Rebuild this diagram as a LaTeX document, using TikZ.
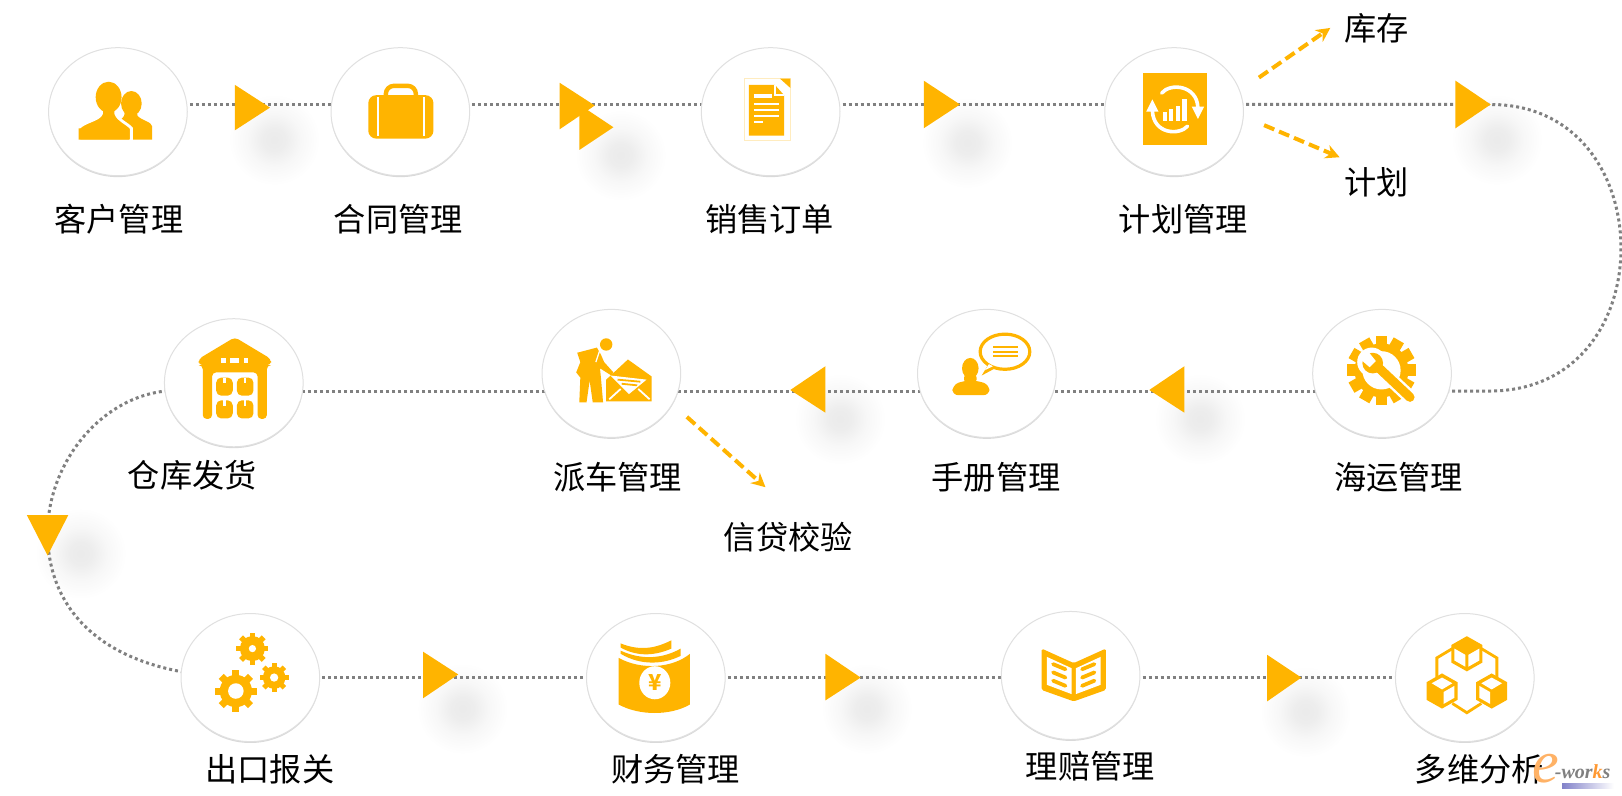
\documentclass[tikz,border=0pt]{standalone}
\usepackage{fontspec}
\setmainfont{Noto Sans CJK SC}
\newfontfamily\wmfont{Liberation Serif}
\usetikzlibrary{shapes.geometric,arrows.meta,shadows}
\definecolor{amber}{HTML}{FFB400}
\definecolor{dotgray}{HTML}{808080}
\pgfdeclarelayer{bg}
\pgfsetlayers{bg,main}
\pgfdeclareradialshading{spot}{\pgfpoint{0bp}{0bp}}{color(0bp)=(black!8); color(6bp)=(black!7); color(14bp)=(black!3); color(24bp)=(white); color(50bp)=(white)}
\tikzset{
  ic/.style={fill=amber,draw=none},
  wh/.style={fill=white,draw=none},
  circ/.style={ellipse,minimum width=69.3pt,minimum height=64pt,inner sep=0pt,fill=white,draw=black!12,line width=0.5pt,
     drop shadow={shadow xshift=0pt,shadow yshift=-0.7pt,opacity=0.15,fill=black}},
  lab/.style={font=\fontsize{16.1}{16.1}\selectfont,text=black,inner sep=0pt},
  dotline/.style={draw=dotgray,line width=1.5pt,dash pattern=on 1.5pt off 1.5pt},
  dasharrow/.style={draw=amber,line width=2pt,dash pattern=on 5.5pt off 2.6pt,-{Stealth[length=7pt,width=7pt]}},
}
\newcommand\geargl[5]{%
  \begin{scope}[shift={(#1,#2)}]
    \fill[ic] (0,0) circle[radius={0.78*#3}];
    \foreach \i in {1,...,#5}{\fill[ic,rotate={\i*360/#5}] ({-0.17*#3},0) rectangle ({0.17*#3},{-#3});}
    \fill[wh] (0,0) circle[radius=#4];
  \end{scope}}
\newcommand\cubeic[3]{%
  \begin{scope}[shift={(#1,#2)}]
    \fill[ic] (0,-17)--(15,-8.5)--(15,8.5)--(0,17)--(-15,8.5)--(-15,-8.5)--cycle;
    \ifcase#3\relax
      \fill[wh] (-12,-5)--(-1.5,1)--(-1.5,12.5)--(-12,6.5)--cycle;
      \fill[wh] (12,-5)--(1.5,1)--(1.5,12.5)--(12,6.5)--cycle;
    \or
      \fill[wh] (0,-13)--(10,-7.5)--(0,-1.5)--(-10,-7.5)--cycle;
      \fill[wh] (12,-5)--(1.5,1)--(1.5,12.5)--(12,6.5)--cycle;
    \or
      \fill[wh] (0,-13)--(10,-7.5)--(0,-1.5)--(-10,-7.5)--cycle;
      \fill[wh] (-12,-5)--(-1.5,1)--(-1.5,12.5)--(-12,6.5)--cycle;
    \fi
  \end{scope}}
\begin{document}
\begin{tikzpicture}[x=0.517pt,y=-0.517pt]
\useasboundingbox (0,0) rectangle (1568,768.6);
% rows
\coordinate (r1) at (0,101);
\coordinate (r2) at (0,378);
\coordinate (r3) at (0,655);
% circles
\node[circ] (c1) at (114,108) {};
\node[circ] (c2) at (387,108) {};
\node[circ] (c3) at (745,108) {};
\node[circ] (c4) at (1135,108) {};
\node[circ] (c5) at (1336,361) {};
\node[circ] (c6) at (954,361) {};
\node[circ] (c7) at (591,361) {};
\node[circ] (c8) at (226,370) {};
\node[circ] (c9) at (242,655) {};
\node[circ] (c10) at (634,655) {};
\node[circ] (c11) at (1035,653) {};
\node[circ] (c12) at (1416,655) {};
% free points
\coordinate (p1) at (1441,101);
\coordinate (p2) at (1440,378);
\coordinate (q1) at (160,378);
\coordinate (q2) at (46,515);
\coordinate (a1) at (1217,75);
\coordinate (a2) at (1286,27);
\coordinate (a3) at (1222,121);
\coordinate (a4) at (1295,152);
\coordinate (a5) at (664,403);
\coordinate (a6) at (740,471);
\begin{pgfonlayer}{bg}
  \fill[white] (0,0) rectangle (1568,768.6);
  \shade[shading=spot] (265,135) circle[radius=46];
  \shade[shading=spot] (600,150) circle[radius=46];
  \shade[shading=spot] (935,138) circle[radius=46];
  \shade[shading=spot] (1447,135) circle[radius=46];
  \shade[shading=spot] (1160,405) circle[radius=46];
  \shade[shading=spot] (812,405) circle[radius=46];
  \shade[shading=spot] (78,535) circle[radius=46];
  \shade[shading=spot] (447,685) circle[radius=46];
  \shade[shading=spot] (838,685) circle[radius=46];
  \shade[shading=spot] (1262,688) circle[radius=46];
  \draw[dotline] (c1 |- r1) -- (c2 |- r1);
  \draw[dotline] (c2 |- r1) -- (c3 |- r1);
  \draw[dotline] (c3 |- r1) -- (c4 |- r1);
  \draw[dotline] (c4 |- r1) -- (p1) .. controls (1525,101) and (1567,170) .. (1567,240) .. controls (1567,310) and (1525,378) .. (p2) -- (c5 |- r2);
  \draw[dotline] (c5 |- r2) -- (c6 |- r2);
  \draw[dotline] (c6 |- r2) -- (c7 |- r2);
  \draw[dotline] (c7 |- r2) -- (c8 |- r2);
  \draw[dotline] (c8 |- r2) -- (q1) .. controls (95,385) and (46,450) .. (q2) .. controls (46,590) and (100,655) .. (c9 |- r3);
  \draw[dotline] (c9 |- r3) -- (c10 |- r3);
  \draw[dotline] (c10 |- r3) -- (c11 |- r3);
  \draw[dotline] (c11 |- r3) -- (c12 |- r3);
\end{pgfonlayer}
% triangles
\fill[ic] (227,82)--(227,126)--(261,104)--cycle;
\fill[ic] (541,80)--(541,125)--(575,102)--cycle;
\fill[ic] (560,101)--(560,145)--(593,123)--cycle;
\fill[ic] (893,78)--(893,124)--(928,101)--cycle;
\fill[ic] (1407,78)--(1407,124)--(1441,101)--cycle;
\fill[ic] (1111,377)--(1145,354)--(1145,399)--cycle;
\fill[ic] (764,377)--(798,354)--(798,399)--cycle;
\fill[ic] (26,498)--(66,498)--(46,537)--cycle;
\fill[ic] (409,630)--(409,675)--(443,652)--cycle;
\fill[ic] (798,632)--(798,677)--(832,655)--cycle;
\fill[ic] (1225,633)--(1225,678)--(1258,655)--cycle;
% dashed arrows
\draw[dasharrow] (a1) -- (a2);
\draw[dasharrow] (a3) -- (a4);
\draw[dasharrow] (a5) -- (a6);
% labels
\node[lab] (l1) at (115,212) {客户管理};
\node[lab] (l2) at (385,212) {合同管理};
\node[lab] (l3) at (744,212) {销售订单};
\node[lab] (l4) at (1144,212) {计划管理};
\node[lab] (l5) at (1331,27) {库存};
\node[lab] (l6) at (1331,176) {计划};
\node[lab] (l7) at (186,459) {仓库发货};
\node[lab] (l8) at (597,461) {派车管理};
\node[lab] (l9) at (963,461) {手册管理};
\node[lab] (l10) at (1352,461) {海运管理};
\node[lab] (l11) at (762,519) {信贷校验};
\node[lab] (l12) at (261,744) {出口报关};
\node[lab] (l13) at (653,744) {财务管理};
\node[lab] (l14) at (1054,741) {理赔管理};
\node[lab] (l15) at (1430,744) {多维分析};
% icon 1: people
\fill[ic] (127,100) ellipse [x radius=10,y radius=12];
\fill[ic] (121,106)--(120,112) .. controls (118,116) and (112,118) .. (108,120)--(108,135)--(147,135)--(147,122) .. controls (147,118) and (136,116) .. (133,112)--(132,106)--cycle;
\draw[white,line width=1.4pt,fill=amber] (98,104)--(98,110) .. controls (96,116) and (80,118) .. (76,124)--(76,136)--(127,136)--(127,124) .. controls (124,120) and (114,116) .. (112,110)--(112,104)--cycle;
\fill[ic] (105,94) ellipse [x radius=12.5,y radius=15];
\fill[ic] (76,124)--(76,135)--(125,135)--(125,125)--cycle;
% icon 2: suitcase
\draw[amber,line width=2.2pt,rounded corners=4pt] (373,94)--(373,83)--(402,83)--(402,94);
\fill[ic,rounded corners=4pt] (356,92) rectangle (419,134);
\fill[wh] (364.5,93.5) rectangle (366.5,131);
\fill[wh] (409,93.5) rectangle (411,131);
% icon 3: document
\draw[amber!25,line width=0.5pt] (720,76) rectangle (764,136);
\fill[ic] (754,76)--(764,76)--(764,85)--cycle;
\fill[ic] (724,82)--(749,82)--(758,92)--(758,131)--(724,131)--cycle;
\draw[white,line width=0.9pt] (749,82)--(749,92)--(758,92);
\fill[wh] (729,90.5) rectangle (746,95);
\fill[wh] (729,99.5) rectangle (753,101.5);
\fill[wh] (729,105) rectangle (753,107.5);
\fill[wh] (729,111) rectangle (753,113);
\fill[wh] (729,116.5) rectangle (737.5,119);
% icon 4: planning
\fill[ic] (1105,71) rectangle (1167,140);
\foreach \x/\t in {1124.5/108,1130/105,1137/102,1143/96}{\fill[wh] (\x,117) rectangle ++(4,{\t-117});}
\draw[white,line width=1.8pt,line cap=round] (1123,90) .. controls (1131,80) and (1157,82) .. (1158,104);
\fill[wh] (1152,103)--(1164,103)--(1158,115)--cycle;
\draw[white,line width=1.8pt,line cap=round] (1148,122) .. controls (1140,131) and (1115,130) .. (1114,107);
\fill[wh] (1108,108)--(1120,108)--(1114,96)--cycle;
% icon 5: warehouse
\fill[ic,rounded corners=2pt] (227,326)--(262,347)--(262,353)--(258,353)--(258,405)--(249,405)--(249,360)--(205,360)--(205,405)--(196,405)--(196,353)--(192,353)--(192,347)--cycle;
\fill[wh] (214,346) rectangle (218,350.5);
\fill[wh] (222.5,346) rectangle (231,350.5);
\fill[wh] (236,346) rectangle (240,350.5);
\foreach \x/\y in {209/365,229/365,209/387,229/387}{
  \fill[ic,rounded corners=2.5pt] (\x,\y) rectangle ++(16,17.5);
  \fill[wh] ({\x+7},\y) rectangle ++(2,5);
}
% icon 6: person and envelope
\fill[ic] (586,333) circle[radius=6];
\fill[ic] (558,341)--(577,336)--(581,343)--(584,350)--(593,360)--(591,363)--(580,356)--(581,366)--(583,389)--(573,389)--(570,368)--(567,389)--(560,389)--(561,365)--(557,360)--(561,350)--cycle;
\draw[white,line width=0.6pt] (580,338)--(576,350);
\fill[ic] (586,367)--(607,347.5)--(630,364)--(630,388)--(586,388)--cycle;
\fill[wh] (590,363)--(625,367)--(608,381)--cycle;
\draw[amber,line width=0.9pt] (597,367)--(619,369) (601,371)--(616,372.5);
\draw[white,line width=0.9pt] (589,386)--(600,376) (628,386)--(617,376);
% icon 7: speech
\draw[amber,line width=1.6pt,fill=white] (971.5,340) ellipse [x radius=24,y radius=17];
\fill[ic] (955,353)--(949,363)--(962,356)--cycle;
\fill[wh] (956,352)--(952,358)--(960,354)--cycle;
\foreach \y in {334.5,339,343.5}{\fill[ic] (960,\y) rectangle (984,{\y+2});}
\fill[ic] (938,356) ellipse [x radius=8,y radius=10];
\fill[ic,rounded corners=2.5pt] (932,360) rectangle (944,372);
\fill[ic,rounded corners=3pt] (920.5,382)--(921,372)--(932,368)--(945,368)--(956.5,372)--(956.5,382)--cycle;
% icon 8: gear and wrench
\geargl{1335.5}{358}{33.5}{18.5}{12}
\draw[white,line width=7pt,line cap=round] (1329,352)--(1363,384);
\fill[wh] (1326,350) circle[radius=14];
\draw[amber,line width=4.6pt,line cap=round] (1329,352)--(1363,384);
\fill[ic] (1327,351) circle[radius=10];
\fill[wh] (1316,348)--(1322,339)--(1330,349)--(1324,355)--cycle;
% icon 9: gears
\geargl{228}{668}{20}{7.5}{8}
\geargl{244}{627}{15.5}{3.5}{8}
\geargl{265}{655}{14}{4}{8}
% icon 10: money
\fill[ic] (600,622) .. controls (620,630) and (635,626) .. (649,619)--(649,627) .. controls (635,633) and (618,636) .. (600,626)--cycle;
\fill[ic] (600,629) .. controls (622,639) and (642,636) .. (658,627)--(658,634) .. controls (642,642) and (620,644) .. (600,632)--cycle;
\fill[ic] (598,636) .. controls (620,648) and (650,646) .. (667,632)--(667,681) .. controls (648,692) and (618,692) .. (598,681)--cycle;
\fill[wh] (633,660) ellipse [x radius=15,y radius=16];
\node[font=\fontsize{11}{11}\selectfont\bfseries,text=amber,inner sep=0pt] (yen) at (633,660) {¥};
% icon 11: open book
\fill[ic,rounded corners=0.8pt] (1007,627)--(1038,641)--(1069,627)--(1069,667)--(1038,678)--(1007,667)--cycle;
\fill[wh] (1012,635)--(1036,646)--(1036,671)--(1012,662)--cycle;
\fill[wh] (1064,635)--(1040,646)--(1040,671)--(1064,662)--cycle;
\draw[amber,line width=1.9pt,line cap=round] (1018,642)--(1030,647) (1018,650)--(1030,655) (1018,658)--(1030,663);
\draw[amber,line width=1.9pt,line cap=round] (1058,642)--(1046,647) (1058,650)--(1046,655) (1058,658)--(1046,663);
% icon 12: cubes
\draw[amber,line width=1.4pt] (1404,627)--(1389,636)--(1389,655) (1432,627)--(1447,636)--(1447,655) (1404,680)--(1418,689)--(1432,680);
\cubeic{1418}{632}{0}
\cubeic{1394}{668}{1}
\cubeic{1442}{668}{2}
% watermark
\node[inner sep=0pt,text=orange!60!white,font=\wmfont\itshape\fontsize{30}{30}\selectfont] (wm1) at (1494,743) {e};
\shade[left color=blue!40!gray!70,right color=white] (1510,757) rectangle (1560,762);
\node[inner sep=0pt,text=black!50,font=\wmfont\bfseries\itshape\fontsize{10}{10}\selectfont] (wm2) at (1530,746) {-wor\textcolor{orange!80}{k}s};
\end{tikzpicture}
\end{document}
